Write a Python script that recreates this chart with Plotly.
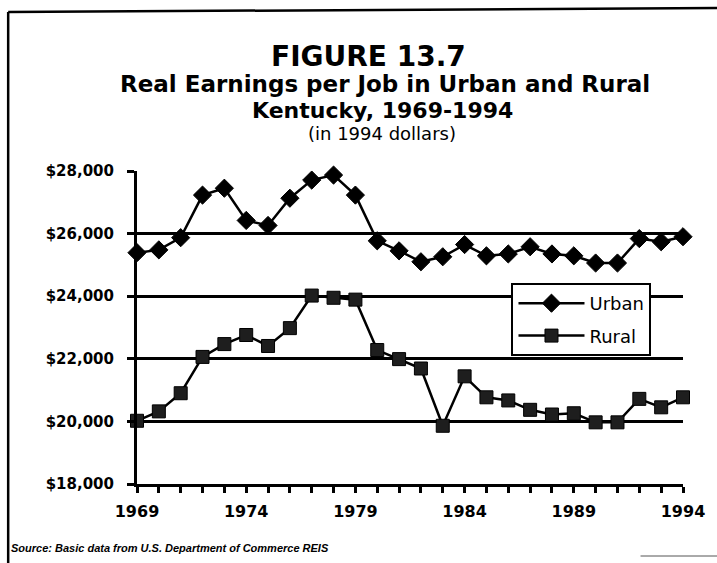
import plotly.graph_objects as go

years = list(range(1969, 1995))
urban = [25390, 25480, 25870, 27230, 27450, 26420, 26260, 27130, 27710, 27870,
         27230, 25770, 25450, 25100, 25260, 25650, 25290, 25350, 25580, 25350,
         25290, 25060, 25060, 25840, 25740, 25900]
rural = [20020, 20320, 20900, 22060, 22470, 22760, 22410, 22980, 24020, 23950,
         23890, 22280, 21990, 21690, 19860, 21440, 20770, 20670, 20370, 20220,
         20260, 19970, 19970, 20720, 20450, 20770]
y_ticks = [18000, 20000, 22000, 24000, 26000, 28000]
y_labels = ["$18,000", "$20,000", "$22,000", "$24,000", "$26,000", "$28,000"]
x_ticks = [1969, 1974, 1979, 1984, 1989, 1994]

FONT = "DejaVu Sans"
S = 0.991  # observed horizontal rendering factor

fig = go.Figure()
fig.add_trace(go.Scatter(
    x=years, y=urban, name="Urban", mode="lines+markers", legendgroup="u",
    line=dict(color="black", width=2.5),
    marker=dict(symbol="diamond", size=14, color="black", line=dict(color="black", width=1)),
    cliponaxis=False))
fig.add_trace(go.Scatter(
    x=years, y=rural, name="Rural", mode="lines+markers", legendgroup="r",
    line=dict(color="black", width=2.5),
    marker=dict(symbol="square", size=13, color="#1e1e1e", line=dict(color="black", width=1)),
    cliponaxis=False))

W, H = 717, 563
L = round(136 / S)
R = W - 692
T, B = 171, 79
pw, ph = W - L - R, H - T - B

def px(x):
    return (x / S - L) / pw

def py(y):
    return (H - B - y) / ph

fig.update_layout(
    width=W, height=H,
    margin=dict(l=L, r=R, t=T, b=B, pad=0),
    paper_bgcolor="white", plot_bgcolor="white",
    font=dict(family=FONT, color="black"),
    showlegend=True,
    legend=dict(x=px(513), y=py(283), xanchor="left", yanchor="top",
                bgcolor="white", bordercolor="black", borderwidth=2,
                font=dict(family=FONT, size=18, color="black"),
                itemwidth=66, tracegroupgap=6),
    xaxis=dict(range=[1969, 1994], tickmode="array", tickvals=x_ticks,
               ticktext=[str(v) for v in x_ticks],
               ticks="outside", ticklen=6, tickwidth=2.5, tickcolor="black",
               ticklabelstandoff=5,
               minor=dict(tickmode="array", tickvals=years, ticks="outside", ticklen=6,
                          tickwidth=2.5, tickcolor="black", showgrid=False),
               showline=True, linecolor="black", linewidth=3,
               showgrid=False, zeroline=False,
               tickfont=dict(family=FONT, size=16, color="black", weight="bold")),
    yaxis=dict(range=[18000, 28000], tickmode="array", tickvals=y_ticks, ticktext=y_labels,
               ticks="outside", ticklen=7, tickwidth=2.5, tickcolor="black",
               ticklabelstandoff=10,
               showline=True, linecolor="black", linewidth=3,
               showgrid=True, gridcolor="black", gridwidth=2.5, zeroline=False,
               tickfont=dict(family=FONT, size=15, color="black", weight="bold")),
)

titles = [
    ("FIGURE 13.7", 369, 56, 28, "bold"),
    ("Real Earnings per Job in Urban and Rural", 386, 84, 23, "bold"),
    ("Kentucky, 1969-1994", 383, 111, 22, "bold"),
    ("(in 1994 dollars)", 383, 134, 18, "normal"),
]
for text, xx, yy, size, weight in titles:
    fig.add_annotation(text=text, xref="paper", yref="paper", x=px(xx), y=py(yy),
                       xanchor="center", yanchor="middle", showarrow=False,
                       font=dict(family=FONT, size=size, color="black", weight=weight))

fig.add_annotation(text="Source: Basic data from U.S. Department of Commerce REIS",
                   xref="paper", yref="paper", x=px(7), y=py(548),
                   xanchor="left", yanchor="middle", showarrow=False,
                   font=dict(family="Liberation Sans", size=11, color="black",
                             weight="bold", style="italic"))

# page frame
fig.add_shape(type="line", xref="paper", yref="paper", x0=px(6), y0=py(12), x1=px(6), y1=py(575),
              line=dict(color="black", width=2.5))
fig.add_shape(type="line", xref="paper", yref="paper", x0=px(6), y0=py(12), x1=px(730), y1=py(8),
              line=dict(color="black", width=2.5))
fig.add_shape(type="line", xref="paper", yref="paper", x0=px(643), y0=py(556), x1=px(730), y1=py(556),
              line=dict(color="#555555", width=1))

fig.write_html("out.html", config={"displayModeBar": False},
               post_script="document.body.style.margin='0px';")
